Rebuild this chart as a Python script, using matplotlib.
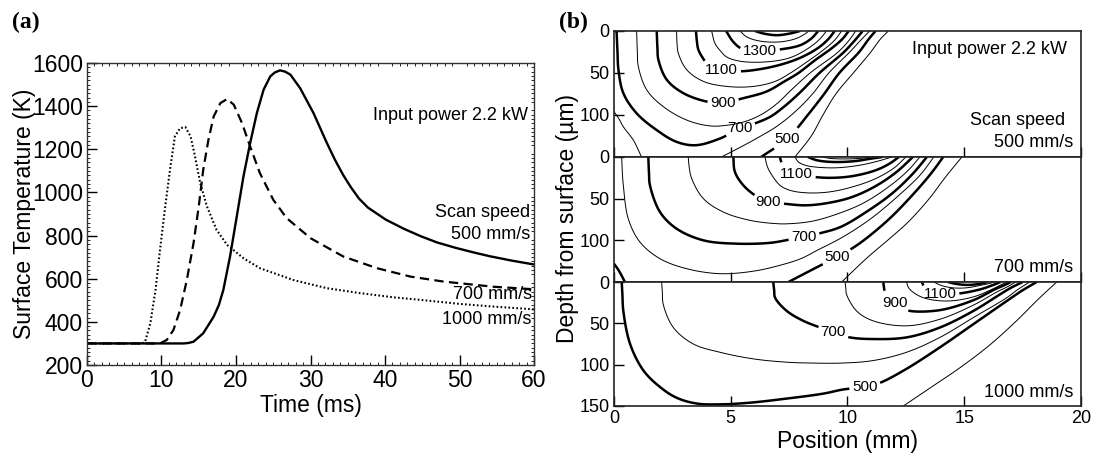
import numpy as np
import matplotlib.pyplot as plt
from matplotlib.contour import ContourSet
from matplotlib.ticker import MultipleLocator

plt.rcParams['font.family'] = ['Liberation Sans', 'DejaVu Sans']

# ---------------- (a) surface temperature history ----------------
t_500 = [0, 13, 13.6, 14.3, 15.6, 17.0, 17.7, 18.3, 19.2, 20.1, 21.0, 21.9, 22.8, 23.7, 24.6, 25.2,
         25.9, 26.6, 27.3, 28.6, 30.4, 32.2, 33.3, 34.4, 35.4, 36.5, 37.7, 40.1, 42.5, 44.8, 47.0,
         49.5, 52.0, 54.1, 57.0, 60]
T_500 = [300, 300, 302, 308, 347, 424, 478, 548, 703, 888, 1074, 1229, 1368, 1476, 1538, 1556,
         1566, 1560, 1546, 1484, 1368, 1229, 1150, 1080, 1025, 972, 930, 874, 832, 797, 768,
         743, 721, 704, 684, 666]

t_700 = [0, 9.8, 10.7, 11.6, 12.5, 13.4, 14.3, 15.0, 15.6, 16.3, 17.0, 17.9, 18.8, 19.7,
         20.8, 21.9, 23.2, 25.0, 26.8, 30.0, 34.4, 38.9, 43.4, 47.8, 54.5, 60]
T_700 = [300, 300, 316, 362, 455, 594, 765, 935, 1105, 1244, 1352, 1414, 1433, 1407,
         1322, 1213, 1090, 966, 881, 788, 703, 649, 610, 587, 563, 551]

t_1000 = [0, 7.4, 7.8, 8.5, 9.2, 9.8, 10.5, 11.2, 11.8, 12.5, 13.2, 13.9, 14.5, 15.2, 16.1,
          17.4, 18.8, 21.0, 23.2, 27.7, 32.2, 36.7, 41.1, 45.6, 50.1, 54.5, 60]
T_1000 = [300, 300, 308, 393, 548, 734, 935, 1120, 1260, 1298, 1303, 1260, 1167, 1043, 935,
          826, 757, 695, 649, 594, 556, 533, 514, 499, 483, 471, 458]

# ---------------- (b) isotherms: (level K, position mm, depth um) ----------------
iso_500 = [
    (400, [7.75, 8.45, 8.95, 9.5, 10.25, 11.0, 11.4, 11.75], [150, 125, 100, 75, 50, 25, 10, 0]),
    (500, [6.3, 7.0, 7.55, 8.3, 9.0, 9.65, 10.5, 10.9, 11.2], [150, 137, 125, 100, 75, 50, 25, 10, 0]),
    (600, [0, 0.2, 0.4, 0.83, 1.18], [96, 104, 114, 130, 150]),
    (600, [4.6, 5.3, 6.1, 7.0, 7.8, 8.5, 9.2, 10.1, 10.6, 10.95], [150, 140, 128, 113, 95, 75, 50, 25, 10, 0]),
    (700, [0.11, 0.15, 0.19, 0.4, 0.97, 1.83, 2.68, 3.5, 4.54, 5.4, 6.04, 6.7, 7.2, 7.9, 8.8, 9.85, 10.35, 10.65],
          [0, 25, 46, 74, 98, 118, 132, 136, 128, 116, 110, 102, 92, 75, 50, 25, 10, 0]),
    (800, [0.97, 1.0, 1.04, 1.4, 2.11, 3.11, 4.11, 4.9, 5.7, 6.4, 7.0, 7.6, 8.4, 9.6, 10.1, 10.35],
          [0, 25, 42, 70, 90, 106, 113, 112, 107, 98, 86, 70, 50, 25, 10, 0]),
    (900, [1.83, 1.86, 1.9, 2.26, 2.97, 3.97, 4.68, 5.54, 6.54, 7.3, 7.9, 8.6, 9.35, 9.8, 10.05],
          [0, 20, 34, 58, 74, 84, 85.5, 80, 72, 60, 50, 35, 20, 9, 0]),
    (1000, [2.68, 2.7, 2.75, 3.11, 3.83, 4.83, 5.97, 6.9, 7.5, 8.2, 8.9, 9.45, 9.75],
           [0, 15, 26, 46, 60, 66, 66, 60, 51, 38, 24, 11, 0]),
    (1100, [3.51, 3.55, 3.61, 3.8, 3.97, 4.61, 5.4, 6.54, 7.5, 8.2, 8.8, 9.2, 9.45],
           [0, 12, 22, 32, 38, 46, 48, 44, 37, 29, 19, 9, 0]),
    (1200, [4.18, 4.33, 4.6, 4.83, 5.4, 6.4, 7.4, 8.0, 8.6, 8.9, 9.1], [0, 15, 25, 31, 36, 37, 33, 26, 15, 7, 0]),
    (1300, [4.8, 5.11, 5.47, 6.25, 7.1, 7.97, 8.45, 8.75], [0, 13, 21, 24, 22, 17, 9, 0]),
    (1400, [5.4, 5.68, 6.25, 7.1, 7.8, 8.15, 8.35], [0, 7, 12, 13, 9, 4, 0]),
    (1500, [6.04, 6.4, 6.97, 7.54, 7.97], [0, 3, 5, 3, 0]),
]
lab_500 = [(1300, 6.25, 23), (1100, 4.61, 46), (900, 4.68, 85.5), (700, 5.4, 116), (500, 7.39, 128.6)]

iso_700 = [
    (400, [9.75, 10.8, 11.8, 12.6, 13.5, 14.2, 14.9], [150, 122, 98, 78, 50, 24, 0]),
    (500, [0, 0.2, 0.47], [128, 136, 150]),
    (500, [7.47, 8.5, 9.54, 10.0, 10.6, 11.8, 12.9, 13.6, 14.1], [150, 135, 120, 113, 102, 74, 42, 19, 0]),
    (600, [0.33, 0.36, 0.4, 0.61, 1.11, 1.97, 3.11, 4.54, 5.97, 7.1, 8.0, 8.7, 9.8, 11.0, 12.2, 13.1, 13.7],
          [0, 20, 34, 74, 102, 122, 134, 140, 137, 130, 122, 112, 96, 74, 46, 22, 0]),
    (700, [1.47, 1.5, 1.54, 1.97, 2.68, 3.83, 5.25, 6.68, 7.54, 8.14, 8.75, 9.7, 10.8, 11.9, 12.8, 13.4],
          [0, 20, 34, 66, 86, 100, 104, 103, 99, 96, 92, 84, 66, 44, 20, 0]),
    (800, [3.18, 3.22, 3.33, 3.83, 4.68, 5.82, 6.97, 7.54, 8.5, 9.6, 10.7, 11.8, 12.6, 13.1],
          [0, 12, 26, 50, 66, 76, 80, 80, 77, 68, 55, 35, 16, 0]),
    (900, [5.11, 5.18, 5.54, 6.04, 6.61, 7.25, 8.2, 9.2, 10.2, 11.2, 12.1, 12.8],
          [0, 18, 34, 46, 54.5, 56, 58, 55, 48, 35, 18, 0]),
    (1000, [6.47, 6.55, 6.68, 7.11, 7.54, 8.25, 9.2, 10.2, 11.2, 12.0, 12.5],
           [0, 10, 18, 34, 40, 43, 42, 36, 26, 13, 0]),
    (1100, [7.1, 7.2, 7.45, 7.82, 8.3, 9.2, 10.2, 11.2, 11.8, 12.2], [0, 8, 15, 20, 23, 25, 23, 16, 8, 0]),
    (1200, [7.75, 7.9, 8.2, 8.6, 9.5, 10.5, 11.3, 11.9], [0, 6, 10, 12, 13, 10, 5, 0]),
    (1300, [8.3, 8.7, 9.4, 10.3, 11.0, 11.5], [0, 4, 6, 5, 2, 0]),
    (1400, [8.9, 9.3, 10.0, 10.6, 11.0], [0, 1.8, 2.3, 1.5, 0]),
]
lab_700 = [(1100, 7.82, 20), (900, 6.61, 54.5), (700, 8.14, 96), (500, 9.54, 120)]

iso_1000 = [
    (400, [12.39, 13.6, 14.9, 16.1, 17.2, 18.2, 18.96], [150, 127, 102, 76, 48, 20, 0]),
    (500, [0.33, 0.36, 0.4, 0.69, 1.26, 1.97, 2.68, 3.54, 4.54, 5.82, 7.4, 8.97, 9.82, 10.75, 11.39,
           12.53, 13.96, 15.39, 16.82, 17.5, 18.1],
          [0, 15, 35, 75, 107, 127, 140, 147, 148, 146, 141, 135, 130, 127, 122, 105, 79, 51, 23, 10, 0]),
    (600, [2.04, 2.07, 2.11, 2.54, 3.4, 4.54, 5.97, 7.4, 8.4, 9.82, 11.1, 12.53, 13.96, 15.39, 16.82, 17.3, 17.8],
          [0, 12, 27, 55, 75, 85, 93, 97, 98, 98, 95, 85, 67, 43, 19, 9, 0]),
    (700, [6.82, 6.86, 6.9, 7.4, 8.11, 8.82, 9.39, 10.1, 11.1, 12.53, 13.96, 15.39, 16.53, 17.0, 17.5],
          [0, 10, 19, 35, 47, 55, 61, 67, 69, 67, 55, 35, 15, 7, 0]),
    (800, [9.9, 9.93, 9.96, 10.39, 11.1, 12.53, 13.96, 15.39, 16.4, 16.9, 17.2],
          [0, 8, 15, 35, 47, 53, 45, 28, 12, 5, 0]),
    (900, [11.53, 11.56, 11.6, 11.8, 12.03, 12.3, 12.68, 13.96, 15.39, 16.3, 16.7, 17.0],
          [0, 6, 11, 18, 25, 31, 35, 34, 22, 9, 4, 0]),
    (1000, [12.53, 12.6, 12.75, 13.25, 14.25, 15.39, 16.25, 16.6, 16.85], [0, 6, 11, 19, 23, 18, 8, 3, 0]),
    (1100, [13.18, 13.3, 13.5, 13.96, 14.75, 15.67, 16.2, 16.55], [0, 6, 11, 15, 14, 9, 4, 0]),
    (1200, [13.7, 14.0, 14.5, 15.1, 15.7, 16.05, 16.3], [0, 4, 7, 7, 4, 2, 0]),
    (1300, [14.3, 14.7, 15.2, 15.7, 16.0], [0, 2.5, 3.5, 2, 0]),
]
lab_1000 = [(1100, 13.96, 15), (900, 12.03, 25), (700, 9.39, 61), (500, 10.75, 127)]


def smooth_path(x, d, n=12):
    # centripetal Catmull-Rom through the read points (drawn in pixel-like units)
    sx, sy = 23.35, 0.84
    p = np.column_stack([np.asarray(x, float) * sx, np.asarray(d, float) * sy])
    if len(p) < 3:
        return np.column_stack([x, d])
    p = np.vstack([2 * p[0] - p[1], p, 2 * p[-1] - p[-2]])
    out = []
    for i in range(1, len(p) - 2):
        P = p[i - 1:i + 3]
        t = [0.0]
        for k in range(3):
            t.append(t[-1] + np.linalg.norm(P[k + 1] - P[k]) ** 0.5 + 1e-9)
        tt = np.linspace(t[1], t[2], n, endpoint=False)[:, None]
        A1 = (t[1] - tt) / (t[1] - t[0]) * P[0] + (tt - t[0]) / (t[1] - t[0]) * P[1]
        A2 = (t[2] - tt) / (t[2] - t[1]) * P[1] + (tt - t[1]) / (t[2] - t[1]) * P[2]
        A3 = (t[3] - tt) / (t[3] - t[2]) * P[2] + (tt - t[2]) / (t[3] - t[2]) * P[3]
        B1 = (t[2] - tt) / (t[2] - t[0]) * A1 + (tt - t[0]) / (t[2] - t[0]) * A2
        B2 = (t[3] - tt) / (t[3] - t[1]) * A2 + (tt - t[1]) / (t[3] - t[1]) * A3
        out.append((t[2] - tt) / (t[2] - t[1]) * B1 + (tt - t[1]) / (t[2] - t[1]) * B2)
    out.append(p[-2][None])
    q = np.vstack(out)
    return np.column_stack([q[:, 0] / sx, q[:, 1] / sy])


# ---------------- figure ----------------
fig = plt.figure(figsize=(10.97, 4.57), dpi=100)

ax = fig.add_axes([0.0793, 0.2013, 0.4075, 0.6608])
ax.plot(t_500, T_500, color='k', lw=1.7)
ax.plot(t_700, T_700, color='k', lw=1.6, dashes=(4.2, 2.4))
ax.plot(t_1000, T_1000, color='k', lw=1.5, dashes=(0.8, 1.1))
ax.set_xlim(0, 60)
ax.set_ylim(200, 1600)
ax.set_xticks(range(0, 61, 10))
ax.set_yticks(range(200, 1601, 200))
ax.xaxis.set_minor_locator(MultipleLocator(1))
ax.yaxis.set_minor_locator(MultipleLocator(20))
ax.tick_params(which='major', direction='in', length=7, width=1, labelsize=16.5, pad=3)
ax.tick_params(which='minor', direction='in', length=2, width=0.6, top=True, right=True)
for s in ax.spines.values():
    s.set_color('#333333')
    s.set_linewidth(1.0)
ax.set_xlabel('Time (ms)', fontsize=16.5, labelpad=1)
ax.set_ylabel('Surface Temperature (K)', fontsize=16.5, labelpad=-3)
ax.text(59.2, 1357, 'Input power 2.2 kW', ha='right', va='center', fontsize=13)
ax.text(59.45, 908, 'Scan speed', ha='right', va='center', fontsize=13)
ax.text(59.45, 803, '500 mm/s', ha='right', va='center', fontsize=13)
ax.text(59.7, 525, '700 mm/s', ha='right', va='center', fontsize=13)
ax.text(59.7, 409, '1000 mm/s', ha='right', va='center', fontsize=13)


def draw_iso(axis, iso, labels):
    levels = sorted(set(lv for lv, _, _ in iso))
    segs = [[smooth_path(x, d) for lv, x, d in iso if lv == L] for L in levels]
    lws = [1.8 if L % 200 == 100 else 0.7 for L in levels]
    axis.set_xlim(0, 20)
    axis.set_ylim(150, 0)
    cs = ContourSet(axis, levels, segs, colors='k', linewidths=lws)
    # labels sit on the bold isotherms; manual points pick the nearest line
    cs.clabel(inline=True, inline_spacing=3, fmt='%d', fontsize=11,
              manual=[(x, d) for _, x, d in labels])
    for t in cs.labelTexts:
        t.set_rotation(0)
    return cs


rx, rw = 0.5597, 0.4257
ax1 = fig.add_axes([rx, 0.6565, rw, 0.2757])
ax2 = fig.add_axes([rx, 0.3829, rw, 0.2736])
ax3 = fig.add_axes([rx, 0.1116, rw, 0.2713])

for a, iso, lab in [(ax1, iso_500, lab_500), (ax2, iso_700, lab_700), (ax3, iso_1000, lab_1000)]:
    draw_iso(a, iso, lab)
    a.set_xticks([0, 5, 10, 15, 20])
    a.tick_params(direction='in', length=7, width=1, labelsize=13, pad=3)
    for s in a.spines.values():
        s.set_color('#222222')
        s.set_linewidth(1.2)

ax1.set_yticks([0, 50, 100])
ax2.set_yticks([0, 50, 100])
ax3.set_yticks([0, 50, 100, 150])
ax1.tick_params(labelbottom=False)
ax2.tick_params(labelbottom=False)
ax3.set_xlabel('Position (mm)', fontsize=16.5, labelpad=2)

ax1.text(19.39, 22, 'Input power 2.2 kW', ha='right', va='center', fontsize=13)
ax1.text(19.34, 107, 'Scan speed', ha='right', va='center', fontsize=13)
ax1.text(19.67, 133, '500 mm/s', ha='right', va='center', fontsize=13)
ax2.text(19.67, 132, '700 mm/s', ha='right', va='center', fontsize=13)
ax3.text(19.67, 134, '1000 mm/s', ha='right', va='center', fontsize=13)

fig.text(0.517, 0.522, 'Depth from surface (\u00b5m)', rotation=90, ha='center', va='center', fontsize=16.5)

fig.text(0.011, 0.975, '(a)', ha='left', va='top', fontsize=17, fontweight='bold', family='Liberation Serif')
fig.text(0.510, 0.975, '(b)', ha='left', va='top', fontsize=17, fontweight='bold', family='Liberation Serif')

fig.savefig('out.png', dpi=100)
